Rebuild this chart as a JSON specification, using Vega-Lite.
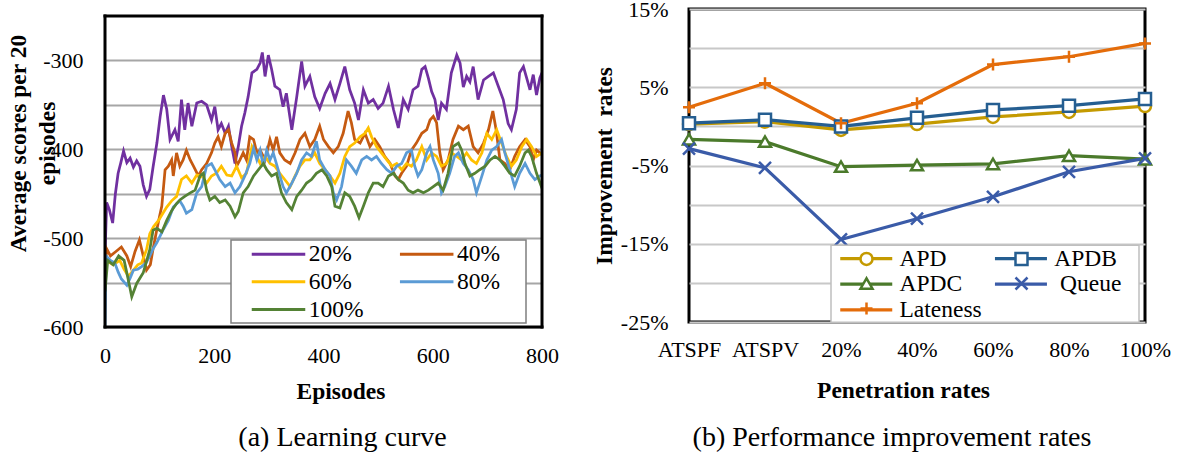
{
  "$schema": "https://vega.github.io/schema/vega-lite/v6.json",
  "background": "white",
  "padding": {"left": 6, "top": -4, "right": 0, "bottom": 0},
  "bounds": "full",
  "spacing": 31,
  "resolve": {"scale": {"color": "independent", "stroke": "independent", "shape": "independent"}, "legend": {"color": "independent", "stroke": "independent", "shape": "independent"}},
  "config": {
    "font": "Liberation Serif",
    "view": {"stroke": "black", "strokeWidth": 3},
    "axis": {"domain": false, "ticks": false, "labelFont": "Liberation Serif", "labelFontSize": 22, "labelColor": "black", "titleFont": "Liberation Serif", "titleFontSize": 23.5, "titleFontWeight": "bold", "titleColor": "black", "labelOverlap": false},
    "legend": {"labelFont": "Liberation Serif", "labelFontSize": 23.5, "labelColor": "black"},
    "title": {"font": "Liberation Serif", "fontSize": 28, "fontWeight": "normal", "color": "black"}
  },
  "datasets": {
    "curve": [
      {"e":0,"s":"20%","v":-520},{"e":3,"s":"20%","v":-460},{"e":8,"s":"20%","v":-468},{"e":14,"s":"20%","v":-483},{"e":19,"s":"20%","v":-450},{"e":24,"s":"20%","v":-427},{"e":29,"s":"20%","v":-415},{"e":34,"s":"20%","v":-402},{"e":40,"s":"20%","v":-415},{"e":46,"s":"20%","v":-410},{"e":52,"s":"20%","v":-420},{"e":58,"s":"20%","v":-413},{"e":64,"s":"20%","v":-419},{"e":70,"s":"20%","v":-440},{"e":76,"s":"20%","v":-453},{"e":82,"s":"20%","v":-445},{"e":88,"s":"20%","v":-420},{"e":95,"s":"20%","v":-393},{"e":101,"s":"20%","v":-363},{"e":107,"s":"20%","v":-339},{"e":113,"s":"20%","v":-355},{"e":119,"s":"20%","v":-389},{"e":128,"s":"20%","v":-378},{"e":134,"s":"20%","v":-391},{"e":140,"s":"20%","v":-344},{"e":146,"s":"20%","v":-378},{"e":152,"s":"20%","v":-348},{"e":159,"s":"20%","v":-374},{"e":168,"s":"20%","v":-348},{"e":177,"s":"20%","v":-346},{"e":186,"s":"20%","v":-350},{"e":195,"s":"20%","v":-367},{"e":201,"s":"20%","v":-352},{"e":207,"s":"20%","v":-378},{"e":213,"s":"20%","v":-371},{"e":220,"s":"20%","v":-382},{"e":226,"s":"20%","v":-374},{"e":232,"s":"20%","v":-397},{"e":238,"s":"20%","v":-416},{"e":244,"s":"20%","v":-397},{"e":250,"s":"20%","v":-374},{"e":256,"s":"20%","v":-359},{"e":262,"s":"20%","v":-341},{"e":269,"s":"20%","v":-314},{"e":278,"s":"20%","v":-310},{"e":284,"s":"20%","v":-303},{"e":288,"s":"20%","v":-291},{"e":293,"s":"20%","v":-318},{"e":299,"s":"20%","v":-294},{"e":305,"s":"20%","v":-310},{"e":311,"s":"20%","v":-329},{"e":320,"s":"20%","v":-333},{"e":326,"s":"20%","v":-352},{"e":332,"s":"20%","v":-337},{"e":342,"s":"20%","v":-378},{"e":351,"s":"20%","v":-341},{"e":360,"s":"20%","v":-301},{"e":366,"s":"20%","v":-329},{"e":375,"s":"20%","v":-318},{"e":384,"s":"20%","v":-341},{"e":393,"s":"20%","v":-354},{"e":403,"s":"20%","v":-337},{"e":412,"s":"20%","v":-326},{"e":421,"s":"20%","v":-344},{"e":430,"s":"20%","v":-326},{"e":439,"s":"20%","v":-307},{"e":448,"s":"20%","v":-333},{"e":457,"s":"20%","v":-348},{"e":464,"s":"20%","v":-367},{"e":473,"s":"20%","v":-333},{"e":482,"s":"20%","v":-348},{"e":491,"s":"20%","v":-344},{"e":500,"s":"20%","v":-354},{"e":509,"s":"20%","v":-348},{"e":519,"s":"20%","v":-329},{"e":528,"s":"20%","v":-355},{"e":537,"s":"20%","v":-376},{"e":546,"s":"20%","v":-344},{"e":555,"s":"20%","v":-355},{"e":564,"s":"20%","v":-333},{"e":573,"s":"20%","v":-329},{"e":580,"s":"20%","v":-310},{"e":586,"s":"20%","v":-307},{"e":592,"s":"20%","v":-320},{"e":598,"s":"20%","v":-335},{"e":604,"s":"20%","v":-344},{"e":610,"s":"20%","v":-367},{"e":616,"s":"20%","v":-348},{"e":625,"s":"20%","v":-355},{"e":634,"s":"20%","v":-314},{"e":644,"s":"20%","v":-294},{"e":650,"s":"20%","v":-303},{"e":656,"s":"20%","v":-330},{"e":662,"s":"20%","v":-318},{"e":668,"s":"20%","v":-324},{"e":674,"s":"20%","v":-307},{"e":683,"s":"20%","v":-344},{"e":693,"s":"20%","v":-322},{"e":702,"s":"20%","v":-318},{"e":711,"s":"20%","v":-314},{"e":720,"s":"20%","v":-329},{"e":729,"s":"20%","v":-344},{"e":738,"s":"20%","v":-371},{"e":744,"s":"20%","v":-378},{"e":753,"s":"20%","v":-355},{"e":759,"s":"20%","v":-314},{"e":766,"s":"20%","v":-307},{"e":772,"s":"20%","v":-320},{"e":778,"s":"20%","v":-333},{"e":784,"s":"20%","v":-316},{"e":790,"s":"20%","v":-339},{"e":796,"s":"20%","v":-320},{"e":800,"s":"20%","v":-314},
      {"e":0,"s":"40%","v":-545},{"e":3,"s":"40%","v":-512},{"e":10,"s":"40%","v":-520},{"e":20,"s":"40%","v":-515},{"e":30,"s":"40%","v":-510},{"e":40,"s":"40%","v":-520},{"e":47,"s":"40%","v":-532},{"e":55,"s":"40%","v":-515},{"e":63,"s":"40%","v":-502},{"e":70,"s":"40%","v":-520},{"e":76,"s":"40%","v":-536},{"e":83,"s":"40%","v":-530},{"e":88,"s":"40%","v":-512},{"e":95,"s":"40%","v":-490},{"e":100,"s":"40%","v":-475},{"e":104,"s":"40%","v":-464},{"e":110,"s":"40%","v":-423},{"e":116,"s":"40%","v":-419},{"e":122,"s":"40%","v":-412},{"e":125,"s":"40%","v":-430},{"e":131,"s":"40%","v":-404},{"e":137,"s":"40%","v":-419},{"e":143,"s":"40%","v":-412},{"e":149,"s":"40%","v":-401},{"e":156,"s":"40%","v":-412},{"e":162,"s":"40%","v":-419},{"e":171,"s":"40%","v":-430},{"e":177,"s":"40%","v":-423},{"e":186,"s":"40%","v":-416},{"e":195,"s":"40%","v":-404},{"e":201,"s":"40%","v":-393},{"e":207,"s":"40%","v":-386},{"e":213,"s":"40%","v":-397},{"e":220,"s":"40%","v":-382},{"e":226,"s":"40%","v":-378},{"e":232,"s":"40%","v":-393},{"e":238,"s":"40%","v":-404},{"e":241,"s":"40%","v":-419},{"e":247,"s":"40%","v":-412},{"e":253,"s":"40%","v":-404},{"e":259,"s":"40%","v":-412},{"e":265,"s":"40%","v":-386},{"e":272,"s":"40%","v":-389},{"e":278,"s":"40%","v":-404},{"e":284,"s":"40%","v":-401},{"e":293,"s":"40%","v":-412},{"e":302,"s":"40%","v":-389},{"e":308,"s":"40%","v":-401},{"e":314,"s":"40%","v":-386},{"e":320,"s":"40%","v":-404},{"e":329,"s":"40%","v":-412},{"e":339,"s":"40%","v":-416},{"e":348,"s":"40%","v":-404},{"e":357,"s":"40%","v":-389},{"e":366,"s":"40%","v":-382},{"e":375,"s":"40%","v":-397},{"e":384,"s":"40%","v":-389},{"e":393,"s":"40%","v":-374},{"e":400,"s":"40%","v":-389},{"e":409,"s":"40%","v":-397},{"e":418,"s":"40%","v":-404},{"e":427,"s":"40%","v":-397},{"e":436,"s":"40%","v":-382},{"e":445,"s":"40%","v":-357},{"e":451,"s":"40%","v":-370},{"e":457,"s":"40%","v":-389},{"e":467,"s":"40%","v":-393},{"e":476,"s":"40%","v":-382},{"e":485,"s":"40%","v":-397},{"e":494,"s":"40%","v":-389},{"e":503,"s":"40%","v":-397},{"e":512,"s":"40%","v":-408},{"e":522,"s":"40%","v":-416},{"e":531,"s":"40%","v":-430},{"e":537,"s":"40%","v":-434},{"e":543,"s":"40%","v":-427},{"e":552,"s":"40%","v":-419},{"e":561,"s":"40%","v":-401},{"e":570,"s":"40%","v":-393},{"e":580,"s":"40%","v":-382},{"e":589,"s":"40%","v":-378},{"e":595,"s":"40%","v":-367},{"e":601,"s":"40%","v":-363},{"e":607,"s":"40%","v":-370},{"e":613,"s":"40%","v":-404},{"e":619,"s":"40%","v":-423},{"e":628,"s":"40%","v":-412},{"e":637,"s":"40%","v":-389},{"e":647,"s":"40%","v":-374},{"e":656,"s":"40%","v":-378},{"e":665,"s":"40%","v":-374},{"e":674,"s":"40%","v":-397},{"e":683,"s":"40%","v":-404},{"e":693,"s":"40%","v":-393},{"e":702,"s":"40%","v":-378},{"e":710,"s":"40%","v":-357},{"e":716,"s":"40%","v":-378},{"e":723,"s":"40%","v":-412},{"e":732,"s":"40%","v":-416},{"e":741,"s":"40%","v":-423},{"e":750,"s":"40%","v":-408},{"e":759,"s":"40%","v":-397},{"e":769,"s":"40%","v":-389},{"e":778,"s":"40%","v":-397},{"e":784,"s":"40%","v":-412},{"e":790,"s":"40%","v":-401},{"e":800,"s":"40%","v":-406},
      {"e":0,"s":"60%","v":-560},{"e":2,"s":"60%","v":-525},{"e":15,"s":"60%","v":-530},{"e":27,"s":"60%","v":-525},{"e":35,"s":"60%","v":-535},{"e":43,"s":"60%","v":-543},{"e":52,"s":"60%","v":-536},{"e":60,"s":"60%","v":-530},{"e":67,"s":"60%","v":-528},{"e":76,"s":"60%","v":-513},{"e":82,"s":"60%","v":-495},{"e":89,"s":"60%","v":-487},{"e":98,"s":"60%","v":-480},{"e":106,"s":"60%","v":-472},{"e":113,"s":"60%","v":-465},{"e":122,"s":"60%","v":-458},{"e":131,"s":"60%","v":-453},{"e":140,"s":"60%","v":-434},{"e":149,"s":"60%","v":-430},{"e":159,"s":"60%","v":-438},{"e":168,"s":"60%","v":-429},{"e":177,"s":"60%","v":-430},{"e":186,"s":"60%","v":-438},{"e":195,"s":"60%","v":-430},{"e":204,"s":"60%","v":-427},{"e":213,"s":"60%","v":-419},{"e":223,"s":"60%","v":-429},{"e":232,"s":"60%","v":-430},{"e":241,"s":"60%","v":-419},{"e":250,"s":"60%","v":-432},{"e":259,"s":"60%","v":-427},{"e":269,"s":"60%","v":-397},{"e":275,"s":"60%","v":-404},{"e":284,"s":"60%","v":-416},{"e":293,"s":"60%","v":-408},{"e":302,"s":"60%","v":-416},{"e":311,"s":"60%","v":-419},{"e":320,"s":"60%","v":-427},{"e":329,"s":"60%","v":-434},{"e":339,"s":"60%","v":-442},{"e":348,"s":"60%","v":-430},{"e":357,"s":"60%","v":-419},{"e":366,"s":"60%","v":-412},{"e":375,"s":"60%","v":-412},{"e":384,"s":"60%","v":-404},{"e":393,"s":"60%","v":-416},{"e":403,"s":"60%","v":-423},{"e":412,"s":"60%","v":-430},{"e":421,"s":"60%","v":-438},{"e":430,"s":"60%","v":-427},{"e":439,"s":"60%","v":-408},{"e":448,"s":"60%","v":-397},{"e":457,"s":"60%","v":-393},{"e":467,"s":"60%","v":-386},{"e":476,"s":"60%","v":-382},{"e":482,"s":"60%","v":-376},{"e":488,"s":"60%","v":-386},{"e":497,"s":"60%","v":-397},{"e":506,"s":"60%","v":-404},{"e":516,"s":"60%","v":-412},{"e":525,"s":"60%","v":-419},{"e":534,"s":"60%","v":-416},{"e":543,"s":"60%","v":-423},{"e":552,"s":"60%","v":-416},{"e":561,"s":"60%","v":-419},{"e":570,"s":"60%","v":-412},{"e":580,"s":"60%","v":-397},{"e":589,"s":"60%","v":-412},{"e":598,"s":"60%","v":-404},{"e":607,"s":"60%","v":-408},{"e":616,"s":"60%","v":-419},{"e":625,"s":"60%","v":-416},{"e":634,"s":"60%","v":-404},{"e":644,"s":"60%","v":-408},{"e":653,"s":"60%","v":-412},{"e":662,"s":"60%","v":-404},{"e":671,"s":"60%","v":-412},{"e":680,"s":"60%","v":-416},{"e":690,"s":"60%","v":-404},{"e":699,"s":"60%","v":-382},{"e":708,"s":"60%","v":-389},{"e":717,"s":"60%","v":-378},{"e":726,"s":"60%","v":-393},{"e":735,"s":"60%","v":-408},{"e":744,"s":"60%","v":-419},{"e":753,"s":"60%","v":-412},{"e":763,"s":"60%","v":-397},{"e":772,"s":"60%","v":-389},{"e":781,"s":"60%","v":-397},{"e":790,"s":"60%","v":-408},{"e":800,"s":"60%","v":-404},
      {"e":0,"s":"80%","v":-600},{"e":2,"s":"80%","v":-520},{"e":10,"s":"80%","v":-525},{"e":18,"s":"80%","v":-528},{"e":24,"s":"80%","v":-538},{"e":30,"s":"80%","v":-546},{"e":40,"s":"80%","v":-553},{"e":46,"s":"80%","v":-545},{"e":52,"s":"80%","v":-536},{"e":60,"s":"80%","v":-535},{"e":67,"s":"80%","v":-532},{"e":75,"s":"80%","v":-528},{"e":82,"s":"80%","v":-520},{"e":88,"s":"80%","v":-512},{"e":95,"s":"80%","v":-505},{"e":107,"s":"80%","v":-490},{"e":116,"s":"80%","v":-480},{"e":125,"s":"80%","v":-465},{"e":137,"s":"80%","v":-458},{"e":143,"s":"80%","v":-464},{"e":149,"s":"80%","v":-472},{"e":159,"s":"80%","v":-468},{"e":168,"s":"80%","v":-449},{"e":177,"s":"80%","v":-442},{"e":186,"s":"80%","v":-419},{"e":195,"s":"80%","v":-416},{"e":201,"s":"80%","v":-423},{"e":210,"s":"80%","v":-434},{"e":220,"s":"80%","v":-442},{"e":229,"s":"80%","v":-438},{"e":238,"s":"80%","v":-449},{"e":247,"s":"80%","v":-442},{"e":256,"s":"80%","v":-430},{"e":265,"s":"80%","v":-416},{"e":272,"s":"80%","v":-399},{"e":278,"s":"80%","v":-412},{"e":284,"s":"80%","v":-401},{"e":290,"s":"80%","v":-419},{"e":296,"s":"80%","v":-401},{"e":302,"s":"80%","v":-412},{"e":308,"s":"80%","v":-404},{"e":317,"s":"80%","v":-423},{"e":326,"s":"80%","v":-442},{"e":332,"s":"80%","v":-449},{"e":342,"s":"80%","v":-438},{"e":351,"s":"80%","v":-427},{"e":360,"s":"80%","v":-412},{"e":369,"s":"80%","v":-404},{"e":378,"s":"80%","v":-408},{"e":387,"s":"80%","v":-391},{"e":393,"s":"80%","v":-412},{"e":403,"s":"80%","v":-423},{"e":412,"s":"80%","v":-430},{"e":418,"s":"80%","v":-449},{"e":424,"s":"80%","v":-457},{"e":433,"s":"80%","v":-442},{"e":442,"s":"80%","v":-412},{"e":451,"s":"80%","v":-419},{"e":460,"s":"80%","v":-427},{"e":470,"s":"80%","v":-412},{"e":479,"s":"80%","v":-408},{"e":488,"s":"80%","v":-412},{"e":497,"s":"80%","v":-408},{"e":506,"s":"80%","v":-416},{"e":516,"s":"80%","v":-423},{"e":525,"s":"80%","v":-427},{"e":534,"s":"80%","v":-419},{"e":543,"s":"80%","v":-416},{"e":552,"s":"80%","v":-404},{"e":561,"s":"80%","v":-401},{"e":567,"s":"80%","v":-419},{"e":573,"s":"80%","v":-430},{"e":580,"s":"80%","v":-423},{"e":589,"s":"80%","v":-404},{"e":595,"s":"80%","v":-397},{"e":601,"s":"80%","v":-412},{"e":610,"s":"80%","v":-427},{"e":616,"s":"80%","v":-449},{"e":622,"s":"80%","v":-442},{"e":631,"s":"80%","v":-427},{"e":640,"s":"80%","v":-408},{"e":647,"s":"80%","v":-404},{"e":656,"s":"80%","v":-416},{"e":665,"s":"80%","v":-423},{"e":674,"s":"80%","v":-434},{"e":680,"s":"80%","v":-449},{"e":690,"s":"80%","v":-430},{"e":699,"s":"80%","v":-412},{"e":708,"s":"80%","v":-401},{"e":717,"s":"80%","v":-397},{"e":726,"s":"80%","v":-389},{"e":732,"s":"80%","v":-404},{"e":741,"s":"80%","v":-423},{"e":750,"s":"80%","v":-442},{"e":759,"s":"80%","v":-427},{"e":769,"s":"80%","v":-416},{"e":778,"s":"80%","v":-427},{"e":787,"s":"80%","v":-434},{"e":796,"s":"80%","v":-430},{"e":800,"s":"80%","v":-429},
      {"e":0,"s":"100%","v":-560},{"e":5,"s":"100%","v":-525},{"e":15,"s":"100%","v":-530},{"e":25,"s":"100%","v":-520},{"e":35,"s":"100%","v":-525},{"e":42,"s":"100%","v":-545},{"e":49,"s":"100%","v":-566},{"e":58,"s":"100%","v":-551},{"e":70,"s":"100%","v":-539},{"e":82,"s":"100%","v":-513},{"e":88,"s":"100%","v":-491},{"e":95,"s":"100%","v":-489},{"e":104,"s":"100%","v":-493},{"e":113,"s":"100%","v":-480},{"e":122,"s":"100%","v":-469},{"e":131,"s":"100%","v":-461},{"e":137,"s":"100%","v":-457},{"e":146,"s":"100%","v":-453},{"e":156,"s":"100%","v":-449},{"e":165,"s":"100%","v":-446},{"e":174,"s":"100%","v":-430},{"e":180,"s":"100%","v":-427},{"e":186,"s":"100%","v":-446},{"e":192,"s":"100%","v":-457},{"e":201,"s":"100%","v":-453},{"e":210,"s":"100%","v":-460},{"e":220,"s":"100%","v":-457},{"e":229,"s":"100%","v":-464},{"e":238,"s":"100%","v":-476},{"e":244,"s":"100%","v":-470},{"e":253,"s":"100%","v":-449},{"e":262,"s":"100%","v":-442},{"e":272,"s":"100%","v":-430},{"e":281,"s":"100%","v":-423},{"e":290,"s":"100%","v":-416},{"e":296,"s":"100%","v":-423},{"e":305,"s":"100%","v":-430},{"e":314,"s":"100%","v":-427},{"e":323,"s":"100%","v":-449},{"e":332,"s":"100%","v":-460},{"e":342,"s":"100%","v":-468},{"e":351,"s":"100%","v":-453},{"e":360,"s":"100%","v":-446},{"e":369,"s":"100%","v":-438},{"e":378,"s":"100%","v":-434},{"e":387,"s":"100%","v":-427},{"e":397,"s":"100%","v":-423},{"e":406,"s":"100%","v":-430},{"e":415,"s":"100%","v":-442},{"e":421,"s":"100%","v":-464},{"e":430,"s":"100%","v":-466},{"e":439,"s":"100%","v":-449},{"e":448,"s":"100%","v":-453},{"e":457,"s":"100%","v":-464},{"e":465,"s":"100%","v":-477},{"e":473,"s":"100%","v":-464},{"e":482,"s":"100%","v":-449},{"e":491,"s":"100%","v":-438},{"e":500,"s":"100%","v":-438},{"e":509,"s":"100%","v":-442},{"e":519,"s":"100%","v":-430},{"e":528,"s":"100%","v":-427},{"e":537,"s":"100%","v":-434},{"e":546,"s":"100%","v":-438},{"e":555,"s":"100%","v":-446},{"e":564,"s":"100%","v":-449},{"e":573,"s":"100%","v":-446},{"e":583,"s":"100%","v":-449},{"e":592,"s":"100%","v":-446},{"e":601,"s":"100%","v":-442},{"e":610,"s":"100%","v":-438},{"e":619,"s":"100%","v":-446},{"e":628,"s":"100%","v":-427},{"e":637,"s":"100%","v":-397},{"e":647,"s":"100%","v":-393},{"e":653,"s":"100%","v":-401},{"e":659,"s":"100%","v":-416},{"e":668,"s":"100%","v":-430},{"e":677,"s":"100%","v":-427},{"e":686,"s":"100%","v":-423},{"e":696,"s":"100%","v":-419},{"e":705,"s":"100%","v":-412},{"e":714,"s":"100%","v":-408},{"e":723,"s":"100%","v":-412},{"e":732,"s":"100%","v":-419},{"e":741,"s":"100%","v":-427},{"e":750,"s":"100%","v":-430},{"e":759,"s":"100%","v":-419},{"e":769,"s":"100%","v":-404},{"e":775,"s":"100%","v":-401},{"e":781,"s":"100%","v":-408},{"e":790,"s":"100%","v":-427},{"e":800,"s":"100%","v":-444}
    ],
    "rates": [
      {"c":"ATSPF","s":"APD","v":0.3},{"c":"ATSPV","s":"APD","v":0.6},{"c":"20%","s":"APD","v":-0.45},{"c":"40%","s":"APD","v":0.3},{"c":"60%","s":"APD","v":1.2},{"c":"80%","s":"APD","v":1.85},{"c":"100%","s":"APD","v":2.6},
      {"c":"ATSPF","s":"APDB","v":0.4},{"c":"ATSPV","s":"APDB","v":0.85},{"c":"20%","s":"APDB","v":0.0},{"c":"40%","s":"APDB","v":1.1},{"c":"60%","s":"APDB","v":2.1},{"c":"80%","s":"APDB","v":2.65},{"c":"100%","s":"APDB","v":3.5},
      {"c":"ATSPF","s":"APDC","v":-1.65},{"c":"ATSPV","s":"APDC","v":-1.95},{"c":"20%","s":"APDC","v":-5.15},{"c":"40%","s":"APDC","v":-4.95},{"c":"60%","s":"APDC","v":-4.8},{"c":"80%","s":"APDC","v":-3.75},{"c":"100%","s":"APDC","v":-4.2},
      {"c":"ATSPF","s":"Queue","v":-2.85},{"c":"ATSPV","s":"Queue","v":-5.3},{"c":"20%","s":"Queue","v":-14.45},{"c":"40%","s":"Queue","v":-11.8},{"c":"60%","s":"Queue","v":-9.0},{"c":"80%","s":"Queue","v":-5.8},{"c":"100%","s":"Queue","v":-4.1},
      {"c":"ATSPF","s":"Lateness","v":2.45},{"c":"ATSPV","s":"Lateness","v":5.5},{"c":"20%","s":"Lateness","v":0.4},{"c":"40%","s":"Lateness","v":2.95},{"c":"60%","s":"Lateness","v":7.9},{"c":"80%","s":"Lateness","v":8.9},{"c":"100%","s":"Lateness","v":10.6}
    ]
  },
  "hconcat": [
    {
      "width": 437,
      "height": 318,
      "view": {"stroke": null},
      "title": {"text": "(a) Learning curve", "orient": "bottom", "frame": "group", "anchor": "middle", "offset": 21, "dx": 19},
      "layer": [
        {
          "data": {"name": "curve"},
          "mark": {"type": "line", "strokeWidth": 2.75, "clip": true},
          "encoding": {
            "x": {"field": "e", "type": "quantitative", "scale": {"domain": [0, 800], "nice": false},
              "axis": {"values": [0, 200, 400, 600, 800], "grid": false, "labelPadding": 18, "labelFlush": false, "title": "Episodes", "titleX": 235.5, "titleY": 52, "titleBaseline": "top", "titleAlign": "center"}},
            "y": {"field": "v", "type": "quantitative", "scale": {"domain": [-600, -242.12], "nice": false, "zero": false},
              "axis": {"values": [-600, -550, -500, -450, -400, -350, -300], "labelExpr": "datum.value % 100 === 0 ? '' + datum.value : ''", "labelPadding": 22, "gridColor": "#a6a6a6", "gridWidth": 2, "title": ["Average scores per 20", "episodes"], "titleX": -98.7, "titleY": 134, "titleAngle": 270, "titleBaseline": "top", "titleAlign": "center", "titleLineHeight": 29}},
            "color": {"field": "s", "type": "nominal",
              "scale": {"domain": ["20%", "40%", "60%", "80%", "100%"], "range": ["#7030A0", "#C55A11", "#FFC000", "#5B9BD5", "#548235"]},
              "legend": {"orient": "none", "legendX": 126, "legendY": 231, "columns": 2, "direction": "horizontal", "title": null, "symbolType": "M-2.548,0L2.548,0", "symbolSize": 441, "symbolStrokeWidth": 3, "symbolOffset": 33.5, "labelOffset": 18.25, "columnPadding": 17.2, "rowPadding": 3.75, "padding": 2, "strokeColor": "#7f7f7f", "fillColor": "white", "labelFont": "Liberation Serif", "labelFontSize": 23.5,
                "labelExpr": "datum.label === '40%' || datum.label === '80%' ? datum.label + '\u2003\u200b' : datum.label",
                "encode": {"labels": {"update": {"font": {"value": "Liberation Serif"}, "fontSize": {"value": 23.5}}}, "legend": {"update": {"strokeWidth": {"value": 1.5}}}}}}
          }
        },
        {
          "data": {"values": [{}]},
          "mark": {"type": "rule", "strokeWidth": 3, "color": "black", "strokeCap": "square"},
          "encoding": {"x": {"datum": 0, "type": "quantitative"}, "x2": {"datum": 800}, "y": {"datum": -250, "type": "quantitative"}}
        },
        {
          "data": {"values": [{}]},
          "mark": {"type": "rule", "strokeWidth": 3, "color": "black", "strokeCap": "square"},
          "encoding": {"x": {"datum": 0, "type": "quantitative"}, "x2": {"datum": 800}, "y": {"datum": -600, "type": "quantitative"}}
        },
        {
          "data": {"values": [{}]},
          "mark": {"type": "rule", "strokeWidth": 3, "color": "black", "strokeCap": "square"},
          "encoding": {"x": {"datum": 0, "type": "quantitative"}, "y": {"datum": -600, "type": "quantitative"}, "y2": {"datum": -250}}
        },
        {
          "data": {"values": [{}]},
          "mark": {"type": "rule", "strokeWidth": 3, "color": "black", "strokeCap": "square"},
          "encoding": {"x": {"datum": 800, "type": "quantitative"}, "y": {"datum": -600, "type": "quantitative"}, "y2": {"datum": -250}}
        }
      ]
    },
    {
      "width": 456,
      "height": 313,
      "data": {"name": "rates"},
      "title": {"text": "(b) Performance improvement rates", "orient": "bottom", "frame": "group", "anchor": "middle", "offset": 22, "dx": -25},
      "encoding": {
        "x": {"field": "c", "type": "ordinal", "scale": {"type": "point", "domain": ["ATSPF", "ATSPV", "20%", "40%", "60%", "80%", "100%"], "padding": 0},
          "axis": {"labelAngle": 0, "labelPadding": 17.5, "grid": false, "title": "Penetration rates", "titleX": 214, "titleY": 56, "titleBaseline": "top", "titleAlign": "center"}},
        "y": {"field": "v", "type": "quantitative", "scale": {"domain": [-25, 15], "nice": false, "zero": false},
          "axis": {"values": [-25, -20, -15, -10, -5, 0, 5, 10, 15], "labelExpr": "abs(datum.value) % 10 === 5 ? datum.value + '%' : ''", "labelPadding": 21, "gridColor": "#c8c8c8", "gridWidth": 2, "title": "Improvement\u00a0 rates", "titleX": -97, "titleY": 156.5, "titleAngle": 270, "titleBaseline": "top", "titleAlign": "center"}}
      },
      "layer": [
        {
          "mark": {"type": "line", "strokeWidth": 3.25},
          "encoding": {
            "color": {"field": "s", "type": "nominal",
              "scale": {"domain": ["APD", "APDB", "APDC", "Queue", "Lateness"], "range": ["#C49A00", "#255E91", "#4B7A2B", "#3A5BA8", "#E46C0A"]},
              "legend": {"orient": "none", "legendX": 142, "legendY": 236.25, "columns": 2, "direction": "horizontal", "title": null, "symbolType": "M-2.568,0L2.568,0", "symbolSize": 410, "symbolStrokeWidth": 3.25, "symbolOffset": 22.25, "labelOffset": 21.25, "columnPadding": 4.7, "rowPadding": 1.75, "padding": 1, "strokeColor": "#bfbfbf", "fillColor": "white", "labelFont": "Liberation Serif", "labelFontSize": 23.5,
                "labelExpr": "datum.label === 'Queue' ? '\u200b\u00a0Queue\u2002\u2009\u200b' : datum.label",
                "encode": {"labels": {"update": {"font": {"value": "Liberation Serif"}, "fontSize": {"value": 23.5}}}, "legend": {"update": {"strokeWidth": {"value": 1.5}}}}}}
          }
        },
        {
          "mark": {"type": "point", "filled": false, "fill": "white", "size": 144, "strokeWidth": 2.5, "opacity": 1},
          "encoding": {
            "stroke": {"field": "s", "type": "nominal", "sort": null,
              "scale": {"range": ["#C49A00", "#255E91", "#4B7A2B", "#3A5BA8", "#E46C0A"]},
              "legend": {"orient": "none", "legendX": 142, "legendY": 236.75, "columns": 2, "direction": "horizontal", "title": null, "symbolSize": 144, "symbolStrokeWidth": 2.5, "symbolOffset": 22.75, "labelOffset": 25.75, "columnPadding": -18.3, "rowPadding": 0, "padding": 1, "strokeColor": "transparent", "fillColor": "transparent", "labelOpacity": 0, "symbolFillColor": "white", "labelFont": "Liberation Serif", "labelFontSize": 23.5,
                "labelExpr": "datum.label === 'Queue' ? '\u200b\u00a0Queue\u2002\u2009\u200b' : datum.label",
                "encode": {"labels": {"update": {"font": {"value": "Liberation Serif"}, "fontSize": {"value": 23.5}}}, "symbols": {"update": {"fill": {"value": "white"}}}}}},
            "shape": {"field": "s", "type": "nominal", "sort": null,
              "scale": {"range": ["circle", "square", "triangle-up", "M-1,-1L1,1M-1,1L1,-1", "M-1,0L1,0M0,-1L0,1"]},
              "legend": {"orient": "none", "legendX": 142, "legendY": 236.75, "columns": 2, "direction": "horizontal", "title": null, "symbolSize": 144, "symbolStrokeWidth": 2.5, "symbolOffset": 22.75, "labelOffset": 25.75, "columnPadding": -18.3, "rowPadding": 0, "padding": 1, "strokeColor": "transparent", "fillColor": "transparent", "labelOpacity": 0, "symbolFillColor": "white", "labelFont": "Liberation Serif", "labelFontSize": 23.5,
                "labelExpr": "datum.label === 'Queue' ? '\u200b\u00a0Queue\u2002\u2009\u200b' : datum.label",
                "encode": {"labels": {"update": {"font": {"value": "Liberation Serif"}, "fontSize": {"value": 23.5}}}, "symbols": {"update": {"fill": {"value": "white"}}}}}}
          }
        }
      ]
    }
  ]
}
